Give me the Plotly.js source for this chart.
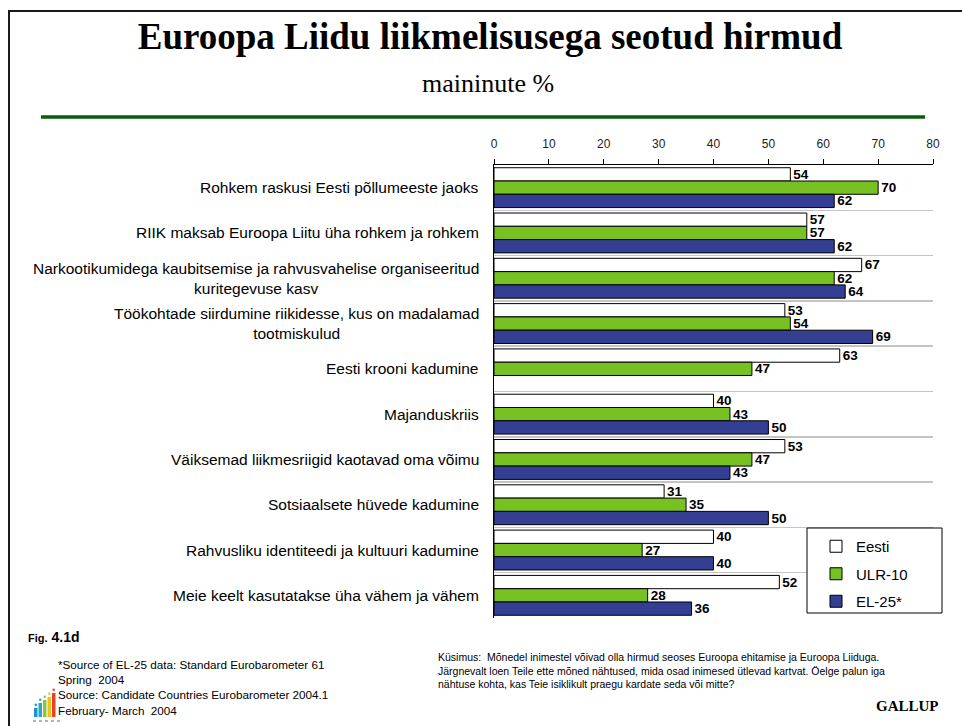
<!DOCTYPE html>
<html>
<head>
<meta charset="utf-8">
<script src="https://cdn.plot.ly/plotly-3.0.1.min.js"></script>
<style>html,body{margin:0;padding:0;background:#fff;}#chart{width:962px;height:726px;}</style>
</head>
<body>
<div id="chart"></div>
<script>
const categories = [
  "Rohkem raskusi Eesti põllumeeste jaoks",
  "RIIK maksab Euroopa Liitu üha rohkem ja rohkem",
  "Narkootikumidega kaubitsemise ja rahvusvahelise organiseeritud<br>kuritegevuse kasv",
  "Töökohtade siirdumine riikidesse, kus on madalamad<br>tootmiskulud",
  "Eesti krooni kadumine",
  "Majanduskriis",
  "Väiksemad liikmesriigid kaotavad oma võimu",
  "Sotsiaalsete hüvede kadumine",
  "Rahvusliku identiteedi ja kultuuri kadumine",
  "Meie keelt kasutatakse üha vähem ja vähem"
];
const eesti = [54, 57, 67, 53, 63, 40, 53, 31, 40, 52];
const ulr10 = [70, 57, 62, 54, 47, 43, 47, 35, 27, 28];
const el25  = [62, 62, 64, 69, null, 50, 43, 50, 40, 36];
const seriesNames = ["Eesti", "ULR-10", "EL-25*"];
const xTickVals = [0, 10, 20, 30, 40, 50, 60, 70, 80];

const W = 962, H = 726;
const PL = 494, PR = 933, PT = 165, PB = 618;
const px = x => (x - PL) / (PR - PL);
const py = y => (PB - y) / (PB - PT);
const SANS = "Liberation Sans, Arial, sans-serif";
const SERIF = "Liberation Serif, Times New Roman, serif";

const colors = ["#ffffff", "#77c123", "#343e92"];
const values = [eesti, ulr10, el25];

const traces = values.map((v, i) => ({
  type: "bar",
  orientation: "h",
  name: seriesNames[i],
  legendgroup: "g" + i,
  x: v,
  y: categories,
  marker: {color: colors[i], line: {color: "#000", width: 1}},
  text: v.map(d => d === null ? "" : String(d)),
  texttemplate: "%{text}",
  textposition: "outside",
  textfont: {family: SANS, size: 13.5, color: "#000", weight: "bold"},
  constraintext: "none",
  cliponaxis: false,
  hoverinfo: "x+name"
}));

const annotations = categories.map(c => ({
  xref: "paper", yref: "y",
  x: px(481), y: c,
  xanchor: "right", yanchor: "middle",
  align: "center",
  text: c,
  showarrow: false,
  font: {family: SANS, size: 15.5, color: "#000"}
}));

annotations.push(
  {xref: "paper", yref: "paper", x: px(488), y: py(84), xanchor: "center", yanchor: "middle",
   text: "maininute %", showarrow: false, font: {family: SERIF, size: 26, color: "#000"}},
  {xref: "paper", yref: "paper", x: px(26), y: py(637), xanchor: "left", yanchor: "middle",
   text: "<b><span style='font-size:11px'>Fig.</span> 4.1d</b>", showarrow: false,
   font: {family: SANS, size: 14, color: "#000"}},
  {xref: "paper", yref: "paper", x: px(56), y: py(656), xanchor: "left", yanchor: "top", align: "left",
   text: "*Source of EL-25 data: Standard Eurobarometer 61<br>Spring  2004<br>Source: Candidate Countries Eurobarometer 2004.1<br>February- March  2004",
   showarrow: false, font: {family: SANS, size: 11.7, color: "#000"}},
  {xref: "paper", yref: "paper", x: px(436), y: py(649), xanchor: "left", yanchor: "top", align: "left",
   text: "Küsimus:  Mõnedel inimestel võivad olla hirmud seoses Euroopa ehitamise ja Euroopa Liiduga.<br>Järgnevalt loen Teile ette mõned nähtused, mida osad inimesed ütlevad kartvat. Öelge palun iga<br>nähtuse kohta, kas Teie isiklikult praegu kardate seda või mitte?",
   showarrow: false, font: {family: SANS, size: 10.5, color: "#000"}},
  {xref: "paper", yref: "paper", x: px(941), y: py(706), xanchor: "right", yanchor: "middle",
   text: "<b>GALLUP</b>", showarrow: false, font: {family: SERIF, size: 15, color: "#000"}}
);

const shapes = [
  // slide frame
  {type: "rect", xref: "paper", yref: "paper", x0: px(9), x1: px(990), y0: py(11), y1: py(760),
   line: {color: "#1a1a1a", width: 2}, fillcolor: "rgba(0,0,0,0)", layer: "below"},
  // green rule
  {type: "line", xref: "paper", yref: "paper", x0: px(41), x1: px(925), y0: py(117), y1: py(117),
   line: {color: "#0b5e0b", width: 3.5}},
  // legend box
  {type: "rect", xref: "paper", yref: "paper", x0: px(807), x1: px(942), y0: py(528), y1: py(613),
   line: {color: "#000", width: 1}, fillcolor: "#ffffff", layer: "above"}
];
// small logo
const logo = [
  [34, 708, "#1f8fd6"], [38.5, 703, "#22a7c9"], [43, 700, "#8cc63f"], [47.5, 697, "#f2c21b"], [52, 693, "#e8412c"]
];
logo.forEach(([x, top, col]) => {
  shapes.push({type: "rect", xref: "paper", yref: "paper", x0: px(x), x1: px(x + 3.5), y0: py(717), y1: py(top),
    line: {width: 0}, fillcolor: col});
  shapes.push({type: "circle", xref: "paper", yref: "paper", x0: px(x + 0.5), x1: px(x + 3), y0: py(top - 2), y1: py(top - 4.5),
    line: {width: 0}, fillcolor: col});
});
shapes.push({type: "line", xref: "paper", yref: "paper", x0: px(33), x1: px(60), y0: py(721), y1: py(721),
  line: {color: "#9a9ab0", width: 1.5, dash: "dot"}});

const layout = {
  width: W, height: H,
  paper_bgcolor: "#fff", plot_bgcolor: "#fff",
  margin: {l: PL, r: W - PR, t: PT, b: H - PB, pad: 0},
  title: {
    text: "<b>Euroopa Liidu liikmelisusega seotud hirmud</b>",
    font: {family: SERIF, size: 37, color: "#000"},
    x: 490 / W, xanchor: "center", xref: "container",
    y: 1 - 36 / H, yanchor: "middle", yref: "container"
  },
  barmode: "group",
  bargap: 0.12,
  bargroupgap: 0,
  showlegend: true,
  legend: {
    x: px(816), y: py(530), xanchor: "left", yanchor: "top",
    bgcolor: "rgba(0,0,0,0)", borderwidth: 0,
    font: {family: SANS, size: 15, color: "#000"},
    traceorder: "grouped", tracegroupgap: 5
  },
  xaxis: {
    side: "top", range: [0, 80], tickvals: xTickVals, ticktext: xTickVals.map(String),
    ticks: "outside", ticklen: 5, tickcolor: "#000", tickwidth: 1,
    showline: true, linecolor: "#000", linewidth: 1,
    showgrid: false, zeroline: false,
    tickfont: {family: SANS, size: 12, color: "#222"},
    ticklabelstandoff: 6, fixedrange: true
  },
  yaxis: {
    type: "category", autorange: "reversed",
    showticklabels: false, ticks: "",
    showline: true, linecolor: "#000", linewidth: 1,
    showgrid: true, gridcolor: "#c4c4c4", gridwidth: 1.5,
    tickson: "boundaries", zeroline: false, fixedrange: true
  },
  annotations: annotations,
  shapes: shapes
};

Plotly.newPlot("chart", traces, layout, {displayModeBar: false, staticPlot: true});
</script>
</body>
</html>
